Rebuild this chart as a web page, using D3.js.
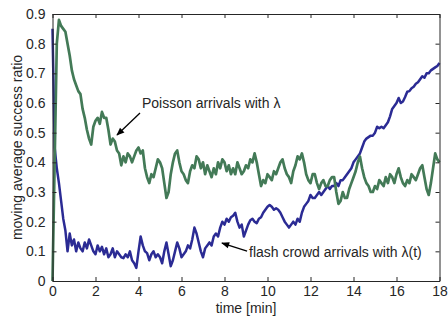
<!DOCTYPE html>
<meta charset="utf-8">
<script src="https://d3js.org/d3.v7.min.js"></script>
<style>
    body {margin: 0; background: #fff;}
    svg {font-family: 'Liberation Sans', Arial, sans-serif;}
</style>
<body>
<svg width="448" height="316"></svg>
<script>
    // time axis, 0.1 min steps from 0 to 18
    const timeMin = d3.range(181).map(i => i / 10);

    const poisson = [
        0.00, 0.40, 0.80, 0.88, 0.86, 0.85, 0.84, 0.80, 0.76, 0.71,
        0.68, 0.66, 0.64, 0.63, 0.58, 0.55, 0.51, 0.48, 0.46, 0.52,
        0.54, 0.55, 0.53, 0.57, 0.55, 0.55, 0.51, 0.46, 0.48, 0.47,
        0.44, 0.43, 0.39, 0.42, 0.40, 0.43, 0.42, 0.40, 0.42, 0.44,
        0.45, 0.43, 0.44, 0.38, 0.35, 0.33, 0.36, 0.35, 0.38, 0.41,
        0.40, 0.38, 0.33, 0.28, 0.30, 0.36, 0.40, 0.43, 0.44, 0.40,
        0.37, 0.36, 0.34, 0.33, 0.37, 0.39, 0.38, 0.42, 0.41, 0.38,
        0.40, 0.36, 0.39, 0.37, 0.35, 0.38, 0.36, 0.40, 0.38, 0.41,
        0.40, 0.37, 0.39, 0.36, 0.38, 0.36, 0.40, 0.38, 0.36, 0.37,
        0.39, 0.38, 0.41, 0.40, 0.43, 0.40, 0.36, 0.32, 0.34, 0.33,
        0.36, 0.35, 0.34, 0.37, 0.36, 0.38, 0.40, 0.41, 0.38, 0.36,
        0.35, 0.33, 0.37, 0.39, 0.42, 0.41, 0.43, 0.40, 0.36, 0.34,
        0.33, 0.36, 0.36, 0.33, 0.31, 0.33, 0.34, 0.32, 0.32, 0.34,
        0.35, 0.35, 0.30, 0.26, 0.27, 0.30, 0.28, 0.28, 0.31, 0.33,
        0.35, 0.37, 0.40, 0.42, 0.38, 0.35, 0.33, 0.32, 0.30, 0.30,
        0.32, 0.31, 0.34, 0.33, 0.32, 0.35, 0.33, 0.36, 0.35, 0.33,
        0.36, 0.38, 0.35, 0.33, 0.32, 0.34, 0.33, 0.36, 0.35, 0.34,
        0.36, 0.38, 0.39, 0.35, 0.31, 0.29, 0.33, 0.38, 0.43, 0.41,
        0.40
    ];

    const flashCrowd = [
        0.85, 0.45, 0.38, 0.33, 0.27, 0.21, 0.17, 0.10, 0.16, 0.12,
        0.14, 0.10, 0.13, 0.11, 0.10, 0.13, 0.11, 0.14, 0.12, 0.10,
        0.09, 0.12, 0.10, 0.115, 0.09, 0.11, 0.08, 0.09, 0.11, 0.08,
        0.10, 0.09, 0.08, 0.077, 0.09, 0.08, 0.10, 0.07, 0.06, 0.044,
        0.10, 0.15, 0.12, 0.10, 0.094, 0.07, 0.09, 0.10, 0.08, 0.09,
        0.08, 0.06, 0.10, 0.13, 0.09, 0.05, 0.07, 0.10, 0.13, 0.11,
        0.08, 0.09, 0.10, 0.12, 0.11, 0.14, 0.18, 0.16, 0.13, 0.10,
        0.08, 0.11, 0.12, 0.13, 0.12, 0.15, 0.16, 0.15, 0.18, 0.20,
        0.19, 0.21, 0.20, 0.215, 0.22, 0.23, 0.20, 0.18, 0.19, 0.15,
        0.17, 0.19, 0.205, 0.21, 0.20, 0.195, 0.21, 0.215, 0.23, 0.24,
        0.25, 0.256, 0.25, 0.24, 0.245, 0.24, 0.23, 0.215, 0.20, 0.19,
        0.18, 0.19, 0.20, 0.19, 0.21, 0.20, 0.23, 0.25, 0.26, 0.27,
        0.29, 0.28, 0.28, 0.29, 0.30, 0.29, 0.30, 0.31, 0.32, 0.31,
        0.32, 0.32, 0.33, 0.32, 0.34, 0.34, 0.35, 0.36, 0.37, 0.38,
        0.40, 0.41, 0.42, 0.43, 0.45, 0.47, 0.48, 0.485, 0.49, 0.49,
        0.50, 0.52, 0.515, 0.52, 0.515, 0.525, 0.535, 0.555, 0.58, 0.59,
        0.60, 0.617, 0.60, 0.605, 0.62, 0.638, 0.64, 0.65, 0.655, 0.665,
        0.67, 0.68, 0.69, 0.685, 0.70, 0.70, 0.71, 0.715, 0.72, 0.725,
        0.735
    ];

    const xTicks = [0, 2, 4, 6, 8, 10, 12, 14, 16, 18];
    const yTicks = [0, 0.1, 0.2, 0.3, 0.4, 0.5, 0.6, 0.7, 0.8, 0.9];

    // annotations: text position, arrow tail and head, in data units
    const poissonNote = {text: "Poisson arrivals with \u03bb", tx: 4.16, ty: 0.583, ax: 4.07, ay: 0.566, bx: 3.0, by: 0.492};
    const flashNote = {text: "flash crowd arrivals with \u03bb(t)", tx: 9.14, ty: 0.081, ax: 9.05, ay: 0.101, bx: 7.88, by: 0.128};

    var svg = d3.select("svg"),
        margin = {top: 14, right: 8.5, bottom: 35, left: 52.5},
        width = 448 - margin.left - margin.right,
        height = 316 - margin.top - margin.bottom;

    var x = d3.scaleLinear().domain([0, 18]).range([margin.left, margin.left + width]);
    var y = d3.scaleLinear().domain([0, 0.9]).range([margin.top + height, margin.top]);

    var axisColor = "#262626";
    var textColor = "#262626";

    svg.append("defs").append("marker")
        .attr("id", "arrowhead")
        .attr("viewBox", "0 -5 10 10")
        .attr("refX", 9)
        .attr("refY", 0)
        .attr("orient", "auto")
        .attr("markerUnits", "userSpaceOnUse")
        .attr("markerWidth", 10)
        .attr("markerHeight", 8)
        .append("path")
        .attr("d", "M0,-4L10,0L0,4Z")
        .attr("fill", "#000");

    var line = d3.line()
        .x((d, i) => x(timeMin[i]))
        .y(d => y(d));

    svg.append("path")
        .datum(flashCrowd)
        .attr("fill", "none")
        .attr("stroke", "#2b2b94")
        .attr("stroke-width", 2.5)
        .attr("stroke-linejoin", "round")
        .attr("d", line);

    svg.append("path")
        .datum(poisson)
        .attr("fill", "none")
        .attr("stroke", "#437a57")
        .attr("stroke-width", 2.7)
        .attr("stroke-linejoin", "round")
        .attr("d", line);

    // axes, matlab style box with inward ticks
    var fontSize = "14px";
    var gx = svg.append("g")
        .attr("transform", "translate(0," + (margin.top + height) + ")")
        .call(d3.axisBottom(x).tickValues(xTicks).tickSizeInner(-4).tickSizeOuter(0).tickPadding(5).tickFormat(d3.format("d")));
    var gxTop = svg.append("g")
        .attr("transform", "translate(0," + margin.top + ")")
        .call(d3.axisTop(x).tickValues(xTicks).tickSizeInner(-4).tickSizeOuter(0).tickFormat(""));
    var gy = svg.append("g")
        .attr("transform", "translate(" + margin.left + ",0)")
        .call(d3.axisLeft(y).tickValues(yTicks).tickSizeInner(-4).tickSizeOuter(0).tickPadding(7).tickFormat(d => d === 0 ? "0" : d3.format(".1f")(d)));
    var gyRight = svg.append("g")
        .attr("transform", "translate(" + (margin.left + width) + ",0)")
        .call(d3.axisRight(y).tickValues(yTicks).tickSizeInner(-4).tickSizeOuter(0).tickFormat(""));

    [gx, gxTop, gy, gyRight].forEach(function (g) {
        g.select(".domain").attr("stroke", axisColor).attr("stroke-width", 1);
        g.selectAll(".tick line").attr("stroke", axisColor);
        g.selectAll("text").style("font-size", fontSize).attr("fill", textColor)
            .style("font-family", "'Liberation Sans', Arial, sans-serif");
    });

    svg.append("text")
        .attr("x", margin.left + width / 2)
        .attr("y", 313)
        .attr("text-anchor", "middle")
        .style("font-size", "14px")
        .attr("fill", textColor)
        .text("time [min]");

    svg.append("text")
        .attr("transform", "translate(22," + (margin.top + height / 2) + ") rotate(-90)")
        .attr("text-anchor", "middle")
        .style("font-size", "14px")
        .attr("fill", textColor)
        .text("moving average success ratio");

    [poissonNote, flashNote].forEach(function (n) {
        svg.append("line")
            .attr("x1", x(n.ax)).attr("y1", y(n.ay))
            .attr("x2", x(n.bx)).attr("y2", y(n.by))
            .attr("stroke", "#000")
            .attr("stroke-width", 1.3)
            .attr("marker-end", "url(#arrowhead)");
        svg.append("text")
            .attr("x", x(n.tx))
            .attr("y", y(n.ty))
            .style("font-size", "14px")
            .attr("fill", textColor)
            .text(n.text);
    });
</script>
</body>
